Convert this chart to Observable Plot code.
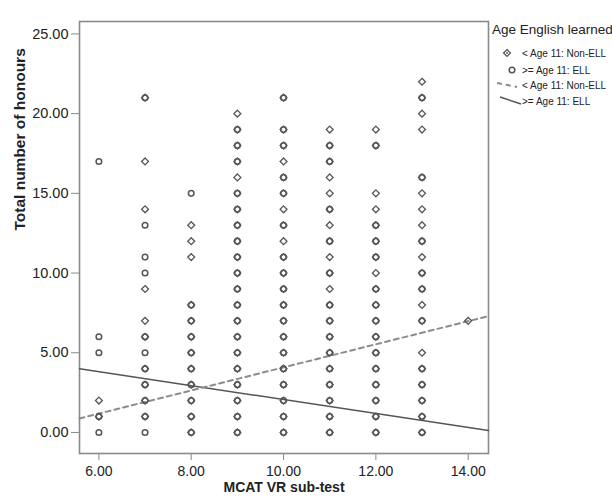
<!DOCTYPE html>
<html>
<head>
<meta charset="utf-8">
<script src="https://cdn.jsdelivr.net/npm/d3@7"></script>
<script src="https://cdn.jsdelivr.net/npm/@observablehq/plot@0.6"></script>
<style>
  html, body { margin: 0; padding: 0; background: #fff; }
  #wrap { position: relative; width: 612px; height: 498px; overflow: hidden; font-family: "Liberation Sans", Arial, sans-serif; }
  #legend { position: absolute; left: 0; top: 0; pointer-events: none; }
</style>
</head>
<body>
<div id="wrap"></div>
<script>
// ---- data ----
const scores = [6, 7, 8, 9, 10, 11, 12, 13, 14];
// "< Age 11: Non-ELL" honours per MCAT VR score (aligned with scores)
const nonEllHonours = [
  [2, 1],
  [21, 17, 14, 9, 7, 6, 4, 3, 2, 1],
  [13, 12, 11, 8, 7, 6, 5, 4, 3, 2, 1, 0],
  [20, 19, 18, 17, 16, 15, 14, 13, 12, 11, 10, 9, 8, 7, 6, 5, 4, 3, 2, 1, 0],
  [21, 19, 18, 17, 16, 15, 14, 13, 12, 11, 10, 9, 8, 7, 6, 5, 4, 3, 2, 1, 0],
  [19, 18, 17, 16, 15, 14, 13, 12, 11, 10, 9, 8, 7, 6, 5, 4, 3, 2, 1, 0],
  [19, 18, 15, 14, 13, 12, 11, 10, 9, 8, 7, 6, 5, 4, 3, 2, 1, 0],
  [22, 21, 20, 19, 16, 15, 14, 13, 12, 11, 10, 9, 8, 7, 5, 4, 3, 2, 1, 0],
  [7]
];
// ">= Age 11: ELL" honours per MCAT VR score
const ellHonours = [
  [17, 6, 5, 1, 0],
  [21, 13, 11, 10, 6, 5, 4, 3, 2, 1, 0],
  [15, 8, 7, 6, 5, 4, 3, 2, 1, 0],
  [19, 18, 17, 15, 14, 13, 12, 11, 10, 9, 8, 7, 6, 5, 4, 3, 2, 1, 0],
  [21, 19, 18, 16, 15, 13, 11, 10, 9, 8, 7, 6, 5, 4, 3, 2, 1, 0],
  [18, 17, 14, 12, 10, 8, 7, 6, 5, 4, 3, 2, 1, 0],
  [18, 13, 12, 11, 9, 8, 7, 6, 5, 4, 3, 2, 1, 0],
  [21, 16, 12, 10, 9, 7, 4, 3, 2, 1, 0],
  []
];
// fit lines (endpoints across the x range)
const fitX = [5.58, 14.44];
const nonEllFitY = [0.88, 7.3];
const ellFitY = [4.0, 0.12];
const xTicks = [6, 8, 10, 12, 14];
const yTicks = [0, 5, 10, 15, 20, 25];
const legendTitle = "Age English learned";
const legendLabels = ["< Age 11: Non-ELL", ">= Age 11: ELL", "< Age 11: Non-ELL", ">= Age 11: ELL"];
const xLabel = "MCAT VR sub-test";
const yLabel = "Total number of honours";

// ---- build tables ----
const nonEll = scores.flatMap((s, i) => nonEllHonours[i].map(h => ({x: s, y: h})));
const ell = scores.flatMap((s, i) => ellHonours[i].map(h => ({x: s, y: h})));
const nonEllFit = fitX.map((x, i) => ({x, y: nonEllFitY[i]}));
const ellFit = fitX.map((x, i) => ({x, y: ellFitY[i]}));

const fmt = d => d.toFixed(2);
const ptColor = "#555";

const chart = Plot.plot({
  width: 612,
  height: 498,
  marginLeft: 79,
  marginRight: 124,
  marginTop: 21,
  marginBottom: 45,
  style: {fontFamily: "Liberation Sans, Arial, sans-serif", background: "#fff", color: "#222"},
  x: {domain: [5.58, 14.44]},
  y: {domain: [-1.32, 25.78]},
  marks: [
    Plot.frame({stroke: "#8a8a8a", strokeWidth: 1.6}),
    Plot.axisX({ticks: xTicks, tickFormat: fmt, tickSize: 7, tickPadding: 6, fontSize: 14, stroke: "#8a8a8a", fill: "#222", label: null}),
    Plot.axisY({ticks: yTicks, tickFormat: fmt, tickSize: 8, tickPadding: 3, fontSize: 14.5, stroke: "#8a8a8a", fill: "#222", label: null}),
    Plot.line(ellFit, {x: "x", y: "y", stroke: "#555", strokeWidth: 1.5}),
    Plot.line(nonEllFit, {x: "x", y: "y", stroke: "#8c8c8c", strokeWidth: 2, strokeDasharray: "5,4"}),
    Plot.dot(ell, {x: "x", y: "y", symbol: "circle", r: 2.8, stroke: ptColor, strokeWidth: 1.5, fill: "none"}),
    Plot.dot(nonEll, {x: "x", y: "y", symbol: "diamond2", r: 3.1, stroke: ptColor, strokeWidth: 1.3, fill: "none"}),
    Plot.text([yLabel], {text: d => d, frameAnchor: "left", dx: -59, dy: -7, rotate: -90, fontSize: 15.5, fontWeight: "bold", fill: "#222"}),
    Plot.text([xLabel], {text: d => d, frameAnchor: "bottom", dy: 38, fontSize: 14, fontWeight: "bold", fill: "#222"})
  ]
});

const wrap = document.getElementById("wrap");
wrap.appendChild(chart);

// ---- legend (right side, outside the plot frame) ----
const lg = d3.select(wrap).append("svg")
  .attr("id", "legend")
  .attr("width", 612).attr("height", 498);
lg.append("text").attr("x", 492).attr("y", 33.5)
  .attr("font-size", 13.5).attr("fill", "#222").text(legendTitle);
const rowY = [53, 70, 85, 101];
// diamond symbol
lg.append("path").attr("d", d3.symbol(d3.symbolDiamond2, Math.PI * 3.1 * 3.1)())
  .attr("transform", `translate(507,${rowY[0]})`)
  .attr("fill", "none").attr("stroke", ptColor).attr("stroke-width", 1.3);
lg.append("circle").attr("cx", 507).attr("cy", rowY[0]).attr("r", 0.9).attr("fill", ptColor);
// circle symbol
lg.append("circle").attr("cx", 512).attr("cy", rowY[1]).attr("r", 2.8)
  .attr("fill", "none").attr("stroke", ptColor).attr("stroke-width", 1.5);
// dashed line
lg.append("line").attr("x1", 497).attr("y1", rowY[2] - 2).attr("x2", 517).attr("y2", rowY[2] + 2)
  .attr("stroke", "#8c8c8c").attr("stroke-width", 2).attr("stroke-dasharray", "5,4");
// solid line
lg.append("line").attr("x1", 500).attr("y1", rowY[3] - 4).attr("x2", 521).attr("y2", rowY[3] + 3)
  .attr("stroke", "#555").attr("stroke-width", 1.5);
legendLabels.forEach((t, i) => {
  lg.append("text").attr("x", 522).attr("y", rowY[i] + 3.5)
    .attr("font-size", 10).attr("fill", "#222").text(t);
});
</script>
</body>
</html>
